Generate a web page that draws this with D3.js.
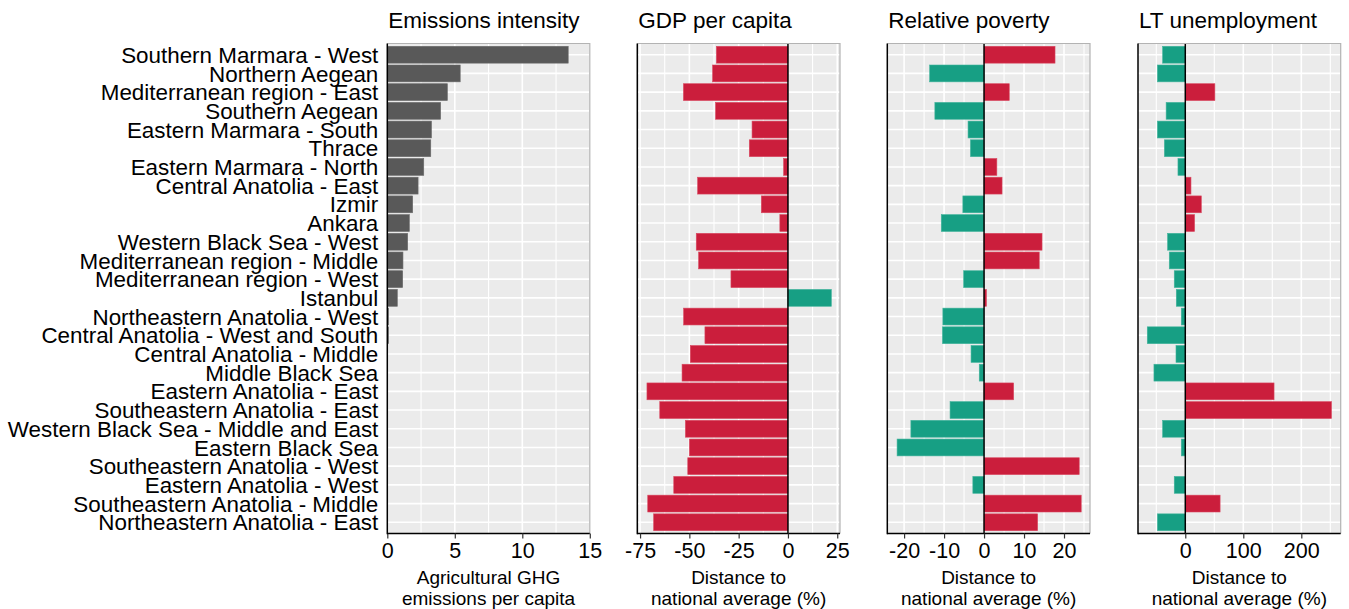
<!DOCTYPE html>
<html>
<head>
<meta charset="utf-8">
<script src="https://cdn.jsdelivr.net/npm/d3@7"></script>
<style>
  html, body { margin: 0; padding: 0; background: #fff; }
  svg { display: block; font-family: "Liberation Sans", Arial, sans-serif; }
</style>
</head>
<body>
<svg id="chart" width="1349" height="609"></svg>
<script>
// Regions, top to bottom
const regions = [
  "Southern Marmara - West", "Northern Aegean", "Mediterranean region - East",
  "Southern Aegean", "Eastern Marmara - South", "Thrace", "Eastern Marmara - North",
  "Central Anatolia - East", "Izmir", "Ankara", "Western Black Sea - West",
  "Mediterranean region - Middle", "Mediterranean region - West", "Istanbul",
  "Northeastern Anatolia - West", "Central Anatolia - West and South",
  "Central Anatolia - Middle", "Middle Black Sea", "Eastern Anatolia - East",
  "Southeastern Anatolia - East", "Western Black Sea - Middle and East",
  "Eastern Black Sea", "Southeastern Anatolia - West", "Eastern Anatolia - West",
  "Southeastern Anatolia - Middle", "Northeastern Anatolia - East"
];

// Agricultural GHG emissions per capita
const emissions = [13.4, 5.4, 4.45, 3.95, 3.27, 3.22, 2.7, 2.28, 1.88, 1.63, 1.51,
  1.16, 1.14, 0.74, 0.1, 0.1, null, null, null, null, null, null, null, null, null, null];

// Distance to national average (%)
const gdp = [-36.3, -38.2, -53.0, -36.7, -18.2, -19.6, -2.2, -45.8, -13.5, -4.1, -46.5,
  -45.3, -28.9, 22.0, -52.9, -42.1, -49.5, -53.7, -71.5, -65.0, -52.0, -50.0, -50.8,
  -57.9, -71.1, -68.1];

const poverty = [17.75, -13.6, 6.3, -12.3, -4.0, -3.4, 3.2, 4.5, -5.3, -10.7, 14.5,
  13.8, -5.1, 0.6, -10.3, -10.4, -3.25, -1.2, 7.4, -8.5, -18.3, -21.75, 23.8, -2.8,
  24.3, 13.4];

const ltUnemployment = [-39, -48, 51, -33, -48, -36, -12.6, 9.8, 27.6, 16, -30.5,
  -27.6, -19, -15.5, -6.9, -65.5, -16, -54, 153, 252, -39, -6.9, null, -19, 60, -48];

// Tick labels per panel
const ticksEmissions = [0, 5, 10, 15];
const ticksGdp = [-75, -50, -25, 0, 25];
const ticksPoverty = [-20, -10, 0, 10, 20];
const ticksLt = [0, 100, 200];

const panelTitles = ["Emissions intensity", "GDP per capita", "Relative poverty", "LT unemployment"];
const axisTitles = [
  ["Agricultural GHG", "emissions per capita"],
  ["Distance to", "national average (%)"],
  ["Distance to", "national average (%)"],
  ["Distance to", "national average (%)"]
];

const colGood = "#179F84";
const colBad = "#CB1E3C";
const colGrey = "#595959";

const panelTop = 43.5, panelBottom = 533.5;

// mode: "plain" grey bars, "higherBetter" (above average is good), "lowerBetter"
const panels = [
  { title: panelTitles[0], values: emissions, ticks: ticksEmissions, minorStep: 2.5,
    x0: 387.3, x1: 589.8, domain: [0, 15], mode: "plain", axisTitle: axisTitles[0] },
  { title: panelTitles[1], values: gdp, ticks: ticksGdp, minorStep: 12.5,
    x0: 637.3, x1: 840, domain: [-76.4, 26.4], mode: "higherBetter", axisTitle: axisTitles[1] },
  { title: panelTitles[2], values: poverty, ticks: ticksPoverty, minorStep: 5,
    x0: 887.3, x1: 1090, domain: [-24.2, 26.5], mode: "lowerBetter", axisTitle: axisTitles[2] },
  { title: panelTitles[3], values: ltUnemployment, ticks: ticksLt, minorStep: 50,
    x0: 1138, x1: 1340.7, domain: [-81.5, 267.9], mode: "lowerBetter", axisTitle: axisTitles[3] }
];

function barColor(mode, v) {
  if (mode === "plain") return colGrey;
  const good = mode === "higherBetter" ? v >= 0 : v < 0;
  return good ? colGood : colBad;
}
function barEdge(mode, v) {
  if (mode === "plain") return "#6a6a6a";
  const good = mode === "higherBetter" ? v >= 0 : v < 0;
  return good ? "#3fb39b" : "#d9475f";
}

const svg = d3.select("#chart");

const y = d3.scaleBand()
  .domain(regions)
  .range([panelTop, panelBottom])
  .paddingInner(0.1)
  .paddingOuter(0.15);

panels.forEach((p, pi) => {
  const x = d3.scaleLinear().domain(p.domain).range([p.x0, p.x1]);
  const g = svg.append("g");

  // panel background
  g.append("rect")
    .attr("x", p.x0).attr("y", panelTop)
    .attr("width", p.x1 - p.x0).attr("height", panelBottom - panelTop)
    .attr("fill", "#EBEBEB");

  // minor vertical grid
  const lo = Math.ceil(p.domain[0] / p.minorStep) * p.minorStep;
  const minor = d3.range(lo, p.domain[1] + 1e-9, p.minorStep)
    .filter(v => !p.ticks.some(t => Math.abs(t - v) < 1e-9));
  g.selectAll(".minor").data(minor).join("line")
    .attr("x1", d => x(d)).attr("x2", d => x(d))
    .attr("y1", panelTop).attr("y2", panelBottom)
    .attr("stroke", "#fff").attr("stroke-width", 1.1);

  // major vertical grid
  g.selectAll(".major").data(p.ticks).join("line")
    .attr("x1", d => x(d)).attr("x2", d => x(d))
    .attr("y1", panelTop).attr("y2", panelBottom)
    .attr("stroke", "#fff").attr("stroke-width", 1.6);

  // horizontal grid at each region
  g.selectAll(".hgrid").data(regions).join("line")
    .attr("x1", p.x0).attr("x2", p.x1)
    .attr("y1", d => y(d) + y.bandwidth() / 2).attr("y2", d => y(d) + y.bandwidth() / 2)
    .attr("stroke", "#fff").attr("stroke-width", 1.6);

  // bars
  const rows = regions.map((r, i) => ({ region: r, v: p.values[i] })).filter(d => d.v !== null);
  g.selectAll(".bar").data(rows).join("rect")
    .attr("x", d => x(Math.min(0, d.v)))
    .attr("width", d => Math.abs(x(d.v) - x(0)))
    .attr("y", d => y(d.region))
    .attr("height", y.bandwidth())
    .attr("fill", d => barColor(p.mode, d.v))
    .attr("stroke", d => barEdge(p.mode, d.v))
    .attr("stroke-width", 0.6);

  // zero line
  if (p.mode !== "plain") {
    g.append("line")
      .attr("x1", x(0)).attr("x2", x(0)).attr("y1", panelTop).attr("y2", panelBottom)
      .attr("stroke", "#000").attr("stroke-width", 1.5);
  }

  // panel border (top and right)
  g.append("path")
    .attr("d", `M${p.x0},${panelTop}H${p.x1}V${panelBottom}`)
    .attr("fill", "none").attr("stroke", "#B3B3B3").attr("stroke-width", 1.2);

  // x axis
  const axis = d3.axisBottom(x).tickValues(p.ticks).tickSize(5).tickPadding(4)
    .tickFormat(d3.format("d"));
  const ax = g.append("g").attr("transform", `translate(0,${panelBottom})`).call(axis);
  ax.select(".domain").attr("stroke", "#000").attr("stroke-width", 1.5)
    .attr("d", `M${p.x0},0H${p.x1}`);
  ax.selectAll(".tick line").attr("stroke", "#333").attr("stroke-width", 1.2);
  ax.selectAll(".tick text")
    .attr("font-size", "21.5px").attr("fill", "#000")
    .attr("font-family", "Liberation Sans, Arial, sans-serif")
    .text(d => d < 0 ? "-" + Math.abs(d) : String(d));

  // left axis line
  g.append("line")
    .attr("x1", p.x0).attr("x2", p.x0).attr("y1", panelTop).attr("y2", panelBottom + 0.75)
    .attr("stroke", "#000").attr("stroke-width", 1.5);

  // panel title
  g.append("text")
    .attr("x", p.x0 + 1).attr("y", 28)
    .attr("font-size", "22.5px").attr("fill", "#000")
    .text(p.title);

  // axis title
  const cx = (p.x0 + p.x1) / 2;
  g.append("text")
    .attr("x", cx).attr("y", 583.5)
    .attr("text-anchor", "middle").attr("font-size", "19px").attr("fill", "#000")
    .text(p.axisTitle[0]);
  g.append("text")
    .attr("x", cx).attr("y", 604.5)
    .attr("text-anchor", "middle").attr("font-size", "19px").attr("fill", "#000")
    .text(p.axisTitle[1]);

  // region labels on the first panel
  if (pi === 0) {
    const yAxis = d3.axisLeft(y).tickSize(0).tickPadding(9);
    const ay = g.append("g").attr("transform", `translate(${p.x0},0)`).call(yAxis);
    ay.select(".domain").remove();
    ay.selectAll(".tick text")
      .attr("font-size", "22.4px").attr("fill", "#000")
      .attr("font-family", "Liberation Sans, Arial, sans-serif")
      .attr("dy", "0.36em");
  }
});
</script>
</body>
</html>
